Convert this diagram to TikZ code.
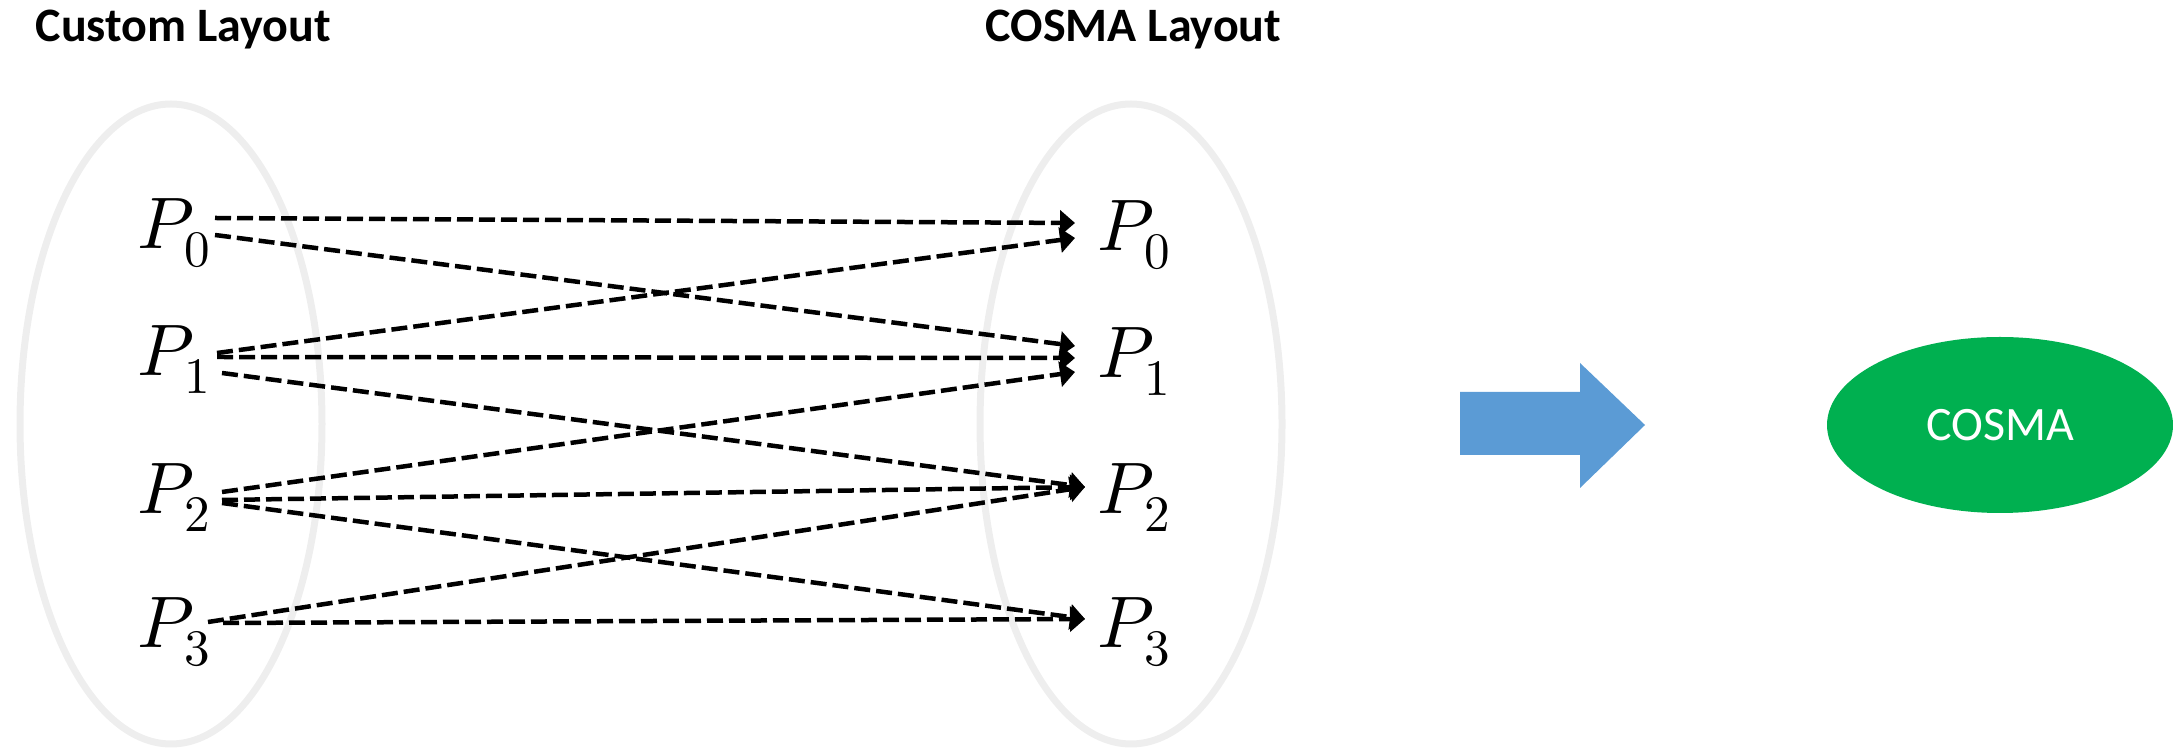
\documentclass[tikz,border=0pt]{standalone}
\usepackage{fontspec}
\usepackage{unicode-math}
\setmainfont{Carlito}
\usetikzlibrary{arrows.meta,shapes.geometric}
\definecolor{ringgray}{RGB}{238,238,238}
\definecolor{arrowblue}{RGB}{91,155,213}
\definecolor{cosmagreen}{RGB}{0,176,80}
\tikzset{
  ring/.style={ellipse, draw=ringgray, line width=2.1pt, minimum width=90.6pt, minimum height=192pt},
  proc/.style={inner sep=0pt, anchor=north west, font=\fontsize{21.9}{24}\selectfont},
  title/.style={inner sep=0pt, anchor=base west, font=\fontsize{14.4}{17}\selectfont\bfseries},
  move/.style={dash pattern=on 4.8pt off 1.8pt, line width=1.35pt, -{Triangle[length=4.5pt,width=7.5pt]}},
  lib/.style={ellipse, fill=cosmagreen, text=white, minimum width=103.8pt, minimum height=52.8pt, font=\fontsize{14.4}{17}\selectfont}
}

\begin{document}
\begin{tikzpicture}[x=0.3pt,y=-0.3pt]
\useasboundingbox (0,0) rectangle (2173,748);
\node[ring] (custom) at (171,424) {};
\node[ring] (cosmalay) at (1131,424) {};
\node[title] (tcustom) at (35,42) {Custom Layout};
\node[title] (tcosma) at (985,42) {COSMA Layout};
\node[proc] (l0) at (137,198) {$P_0$};
\node[proc] (l1) at (137,325) {$P_1$};
\node[proc] (l2) at (137,463) {$P_2$};
\node[proc] (l3) at (137,597) {$P_3$};
\node[proc] (r0) at (1097,200) {$P_0$};
\node[proc] (r1) at (1097,327) {$P_1$};
\node[proc] (r2) at (1097,463) {$P_2$};
\node[proc] (r3) at (1097,597) {$P_3$};
\draw[move] ([shift={(78,20)}]l0.north west) -- ([shift={(-22,23)}]r0.north west);
\draw[move] ([shift={(78,37)}]l0.north west) -- ([shift={(-22,19)}]r1.north west);
\draw[move] ([shift={(80,28)}]l1.north west) -- ([shift={(-22,38)}]r0.north west);
\draw[move] ([shift={(80,32)}]l1.north west) -- ([shift={(-22,31)}]r1.north west);
\draw[move] ([shift={(85,48)}]l1.north west) -- ([shift={(-12,24)}]r2.north west);
\draw[move] ([shift={(85,29)}]l2.north west) -- ([shift={(-22,45)}]r1.north west);
\draw[move] ([shift={(85,37)}]l2.north west) -- ([shift={(-12,24)}]r2.north west);
\draw[move] ([shift={(85,40)}]l2.north west) -- ([shift={(-12,22)}]r3.north west);
\draw[move] ([shift={(71,25)}]l3.north west) -- ([shift={(-12,24)}]r2.north west);
\draw[move] ([shift={(86,26)}]l3.north west) -- ([shift={(-12,22)}]r3.north west);
\fill[arrowblue] (1460,392) -- (1580,392) -- (1580,363) -- (1645,425) -- (1580,488) -- (1580,455) -- (1460,455) -- cycle;
\node[lib] (cosma) at (2000,425) {COSMA};
\end{tikzpicture}
\end{document}
